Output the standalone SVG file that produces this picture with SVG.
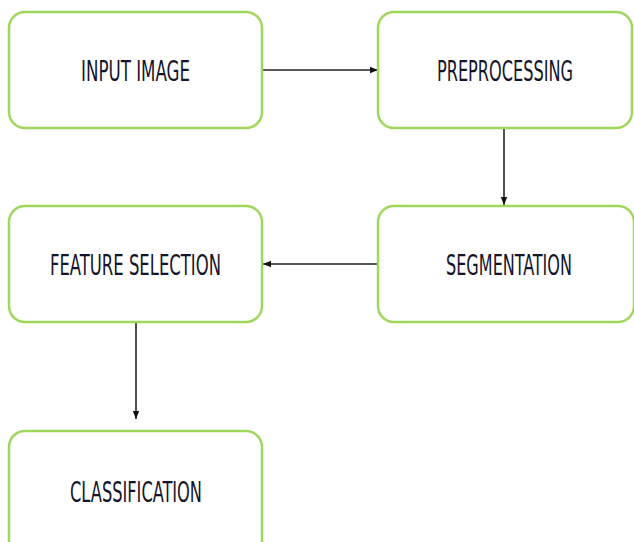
<svg xmlns="http://www.w3.org/2000/svg" width="634" height="542" viewBox="0 0 634 542">
<style>
.box{fill:#ffffff;stroke:#9fd65c;stroke-width:2.5}
.lbl{font-family:"DejaVu Sans Condensed","DejaVu Sans",sans-serif;font-size:28px;fill:#15152a;text-anchor:middle}
.con{stroke:#222;stroke-width:1.6;fill:none;marker-end:url(#ah)}
</style>
<defs>
<marker id="ah" viewBox="0 0 10 10" refX="10" refY="5" markerWidth="8" markerHeight="8" markerUnits="userSpaceOnUse" orient="auto">
<path d="M0,1 L10,5 L0,9 Z" fill="#111"/>
</marker>
</defs>
<rect width="634" height="542" fill="#ffffff"/>
<g id="connectors">
<line class="con" x1="263" y1="70" x2="378" y2="70"/>
<line class="con" x1="504" y1="129" x2="504" y2="205"/>
<line class="con" x1="378" y1="264" x2="263" y2="264"/>
<line class="con" x1="136" y1="323" x2="136" y2="419"/>
</g>
<g id="input-image">
<rect class="box" x="9" y="12" width="253" height="116" rx="16"/>
<text class="lbl" x="135.5" y="81" textLength="109" lengthAdjust="spacingAndGlyphs">INPUT IMAGE</text>
</g>
<g id="preprocessing">
<rect class="box" x="378" y="12" width="254" height="116" rx="16"/>
<text class="lbl" x="505" y="81" textLength="136" lengthAdjust="spacingAndGlyphs">PREPROCESSING</text>
</g>
<g id="segmentation">
<rect class="box" x="378" y="206" width="256" height="116" rx="16"/>
<text class="lbl" x="509" y="275" textLength="126" lengthAdjust="spacingAndGlyphs">SEGMENTATION</text>
</g>
<g id="feature-selection">
<rect class="box" x="9" y="206" width="253" height="116" rx="16"/>
<text class="lbl" x="135.5" y="275" textLength="171" lengthAdjust="spacingAndGlyphs">FEATURE SELECTION</text>
</g>
<g id="classification">
<rect class="box" x="9" y="431" width="253" height="130" rx="16"/>
<text class="lbl" x="136" y="502" textLength="132" lengthAdjust="spacingAndGlyphs">CLASSIFICATION</text>
</g>
</svg>
